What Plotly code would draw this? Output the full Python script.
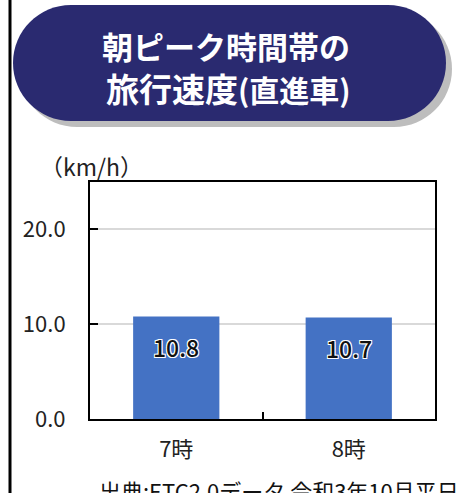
import plotly.graph_objects as go

# ---- data ----
categories = ["7時", "8時"]
speeds = [10.8, 10.7]
y_tick_values = [0, 10, 20]
title_line1 = "朝ピーク時間帯の"
title_line2_main = "旅行速度"
title_line2_sub = "(直進車)"
unit_label = "（km/h）"
source_text = "出典:ETC2.0データ 令和3年10月平日"

# ---- layout geometry (pixels) ----
W, H = 461, 493
L, R, T, B = 90, 26, 182, 74
PW, PH = W - L - R, H - T - B

def px(x):
    return (x - L) / PW

def py(y):
    return (H - B - y) / PH

FONT = "Noto Sans CJK JP"
BAR_COLOR = "#4472C4"
PILL_COLOR = "#2A2A70"


def pill_path(x0, y0, x1, y1):
    r = (y1 - y0) / 2
    k = 0.5523 * r
    cy = (y0 + y1) / 2
    lx, rx = x0 + r, x1 - r
    pts = [
        ("M", [(lx, y0)]),
        ("L", [(rx, y0)]),
        ("C", [(rx + k, y0), (x1, cy - k), (x1, cy)]),
        ("C", [(x1, cy + k), (rx + k, y1), (rx, y1)]),
        ("L", [(lx, y1)]),
        ("C", [(lx - k, y1), (x0, cy + k), (x0, cy)]),
        ("C", [(x0, cy - k), (lx - k, y0), (lx, y0)]),
    ]
    s = ""
    for cmd, ps in pts:
        s += cmd + " " + " ".join(f"{px(a):.5f},{py(b):.5f}" for a, b in ps) + " "
    return s + "Z"


fig = go.Figure()
fig.add_trace(go.Bar(
    x=categories, y=speeds, marker=dict(color=BAR_COLOR, line=dict(width=0)),
    hoverinfo="skip",
))

shapes = [
    dict(type="line", xref="paper", yref="paper", x0=px(10), x1=px(10), y0=py(0), y1=py(H),
         line=dict(color="black", width=3)),
    dict(type="path", xref="paper", yref="paper", path=pill_path(19, 11, 452, 127),
         fillcolor="#BDBDBD", line=dict(width=0), layer="above"),
    dict(type="path", xref="paper", yref="paper", path=pill_path(13, 5, 446, 121),
         fillcolor=PILL_COLOR, line=dict(width=0), layer="above"),
]

outline = "-1px -1px 0 #fff, 1px -1px 0 #fff, -1px 1px 0 #fff, 1px 1px 0 #fff"

annotations = [
    dict(xref="paper", yref="paper", x=px(226), y=py(46), text=f"<b>{title_line1}</b>",
         showarrow=False, font=dict(family=FONT, size=31, color="white"),
         xanchor="center", yanchor="middle"),
    dict(xref="paper", yref="paper", x=px(228), y=py(88),
         text=f"<b>{title_line2_main}<span style='font-size:30px'>{title_line2_sub}</span></b>",
         showarrow=False, font=dict(family=FONT, size=33, color="white"),
         xanchor="center", yanchor="middle"),
    dict(xref="paper", yref="paper", x=px(91), y=py(166), text=unit_label,
         showarrow=False, font=dict(family=FONT, size=23, color="#222"),
         xanchor="center", yanchor="middle"),
    dict(xref="paper", yref="paper", x=px(97), y=py(490), text=source_text,
         showarrow=False, font=dict(family=FONT, size=22, color="#111"),
         xanchor="left", yanchor="middle"),
]
for c, v in zip(categories, speeds):
    annotations.append(dict(
        x=c, y=v, xref="x", yref="y", text=f"{v:.1f}", showarrow=False,
        yshift=-30, xanchor="center", yanchor="middle",
        font=dict(family=FONT, size=23, color="#111111", weight=500, shadow=outline),
    ))

fig.update_layout(
    width=W, height=H,
    margin=dict(l=L, r=R, t=T, b=B, pad=0),
    paper_bgcolor="white", plot_bgcolor="white",
    showlegend=False,
    bargap=0.5,
    shapes=shapes,
    annotations=annotations,
    font=dict(family=FONT, color="#222"),
)
fig.update_xaxes(
    type="category", showline=True, linecolor="black", linewidth=2, mirror=True,
    ticks="inside", tickson="boundaries", ticklen=7, tickcolor="black", tickwidth=1.5,
    tickfont=dict(family=FONT, size=22, color="#222"), ticklabelstandoff=10,
    showgrid=False,
)
fig.update_yaxes(
    range=[0, 25], tickvals=y_tick_values, tickformat=".1f",
    showline=True, linecolor="black", linewidth=2, mirror=True,
    ticks="inside", ticklen=8, tickcolor="black", tickwidth=1.5,
    showgrid=True, gridcolor="#D9D9D9", gridwidth=1.5, zeroline=False,
    tickfont=dict(family=FONT, size=22, color="#222"), ticklabelstandoff=18,
)

fig.write_html("out.html", config={"displayModeBar": False},
               post_script="document.body.style.margin='0';")
